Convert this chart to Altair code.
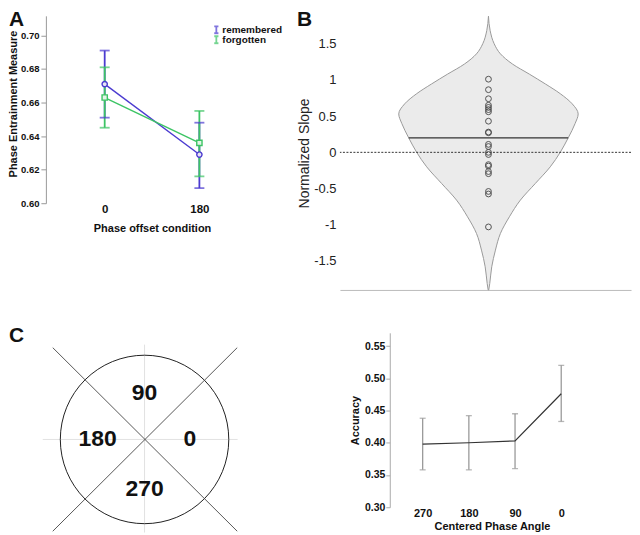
import altair as alt
import pandas as pd

FONT = "Liberation Sans"
PURPLE = "#4b3bd0"
GREEN = "#3cc464"

# ---------------- Panel A data ----------------
a_conditions = ["0", "180"]
a_series = ["remembered", "forgotten"]
a_remembered_mean = [0.671, 0.629]
a_remembered_low = [0.651, 0.609]
a_remembered_high = [0.691, 0.648]
a_forgotten_mean = [0.663, 0.636]
a_forgotten_low = [0.645, 0.616]
a_forgotten_high = [0.681, 0.655]
a_yticks = [0.60, 0.62, 0.64, 0.66, 0.68, 0.70]

# ---------------- Panel B data ----------------
b_slopes = [1.01, 0.865, 0.74, 0.65, 0.62, 0.59, 0.56, 0.43, 0.28, 0.27, 0.11,
            0.08, 0.0, -0.03, -0.17, -0.19, -0.265, -0.295, -0.54, -0.575, -1.03]
b_mean = 0.20
b_mean_halfwidth = 80
b_violin_y = [1.88, 1.68, 1.50, 1.36, 1.22, 1.08, 0.945, 0.81, 0.67, 0.53, 0.40,
              0.20, 0.0, -0.20, -0.43, -0.66, -0.89, -1.12, -1.35, -1.58, -1.81, -1.90]
b_violin_density = [0, 1.7, 5.7, 12, 24, 41, 57, 72, 84, 90, 87,
                    80, 72, 62, 47, 32, 21, 12, 7, 3.3, 1.3, 0.3]
b_yticks = [-1.5, -1, -0.5, 0, 0.5, 1, 1.5]

# ---------------- Panel C (left) data ----------------
c_quadrant_labels = ["90", "180", "0", "270"]
c_label_x = [0.0, -0.54, 0.52, 0.0]
c_label_y = [0.53, 0.0, 0.0, -0.57]
c_diag_x = [-1.055, 1.065]
c_diag_x2 = [1.065, -1.055]
c_diag_y = [1.055, 1.055]
c_diag_y2 = [-1.055, -1.055]

# ---------------- Panel C (right) data ----------------
c_angles = ["270", "180", "90", "0"]
c_acc_mean = [0.398, 0.400, 0.403, 0.476]
c_acc_low = [0.358, 0.358, 0.360, 0.433]
c_acc_high = [0.438, 0.442, 0.445, 0.520]
c_yticks = [0.30, 0.35, 0.40, 0.45, 0.50, 0.55]


def panel_label(letter, x, y):
    return alt.Chart(pd.DataFrame({"t": [letter]})).mark_text(
        align="left", baseline="top", fontSize=21, fontWeight="bold",
        font=FONT, color="#111"
    ).encode(text="t:N", x=alt.value(x), y=alt.value(y))


# ================= Panel A =================
dfA = pd.DataFrame({
    "cond": a_conditions * 2,
    "series": [a_series[0]] * 2 + [a_series[1]] * 2,
    "mean": a_remembered_mean + a_forgotten_mean,
    "low": a_remembered_low + a_forgotten_low,
    "high": a_remembered_high + a_forgotten_high,
})

axA_y = alt.Axis(values=a_yticks, format=".2f", title="Phase Entrainment Measure",
                 grid=False, domainColor="#999", tickColor="#999", tickSize=5,
                 labelFontSize=9.5, labelFontWeight="bold", labelColor="#111",
                 labelPadding=2, titleFontSize=11, titleFontWeight="bold",
                 titleColor="#111", titleX=-27, titleY=88)
scA_y = alt.Scale(domain=[0.60, 0.7117], nice=False, zero=False)
xA = alt.X("cond:N", sort=a_conditions,
           scale=alt.Scale(type="point", range=[59, 154], padding=0),
           axis=alt.Axis(title="Phase offset condition", labelAngle=0, domain=False,
                         ticks=False, grid=False, labelFontSize=11.5,
                         labelFontWeight="bold", labelColor="#111", labelPadding=0,
                         titleFontSize=11, titleFontWeight="bold", titleColor="#111",
                         titlePadding=8))
legA = alt.Legend(title=None, orient="none", legendX=166, legendY=9,
                  symbolType="M0,-1L0,1M-0.6,-1L0.6,-1M-0.6,1L0.6,1",
                  symbolSize=49, symbolStrokeWidth=1.8, labelFont=FONT,
                  labelFontSize=10, labelFontWeight="bold", labelColor="#111",
                  rowPadding=0, labelOffset=1, clipHeight=10)
colA = alt.Color("series:N", scale=alt.Scale(domain=a_series, range=[PURPLE, GREEN]),
                 legend=legA)

baseA = alt.Chart(dfA)
a_bars = baseA.mark_rule(strokeWidth=1.8).encode(
    x=xA, y=alt.Y("low:Q", scale=scA_y, axis=axA_y), y2="high:Q", color=colA)
a_cap_lo = baseA.mark_tick(size=10, thickness=1.8).encode(
    x=xA, y=alt.Y("low:Q", scale=scA_y, axis=axA_y), color=colA)
a_cap_hi = baseA.mark_tick(size=10, thickness=1.8).encode(
    x=xA, y=alt.Y("high:Q", scale=scA_y, axis=axA_y), color=colA)
a_lines = baseA.mark_line(strokeWidth=1.4).encode(
    x=xA, y=alt.Y("mean:Q", scale=scA_y, axis=axA_y), color=colA, detail="series:N")
a_pts_rem = baseA.transform_filter(alt.datum.series == a_series[0]).mark_point(
    shape="circle", filled=False, size=28, strokeWidth=1.4, color=PURPLE,
    fill="#e6e4f4", fillOpacity=1).encode(
    x=xA, y=alt.Y("mean:Q", scale=scA_y, axis=axA_y))
a_pts_for = baseA.transform_filter(alt.datum.series == a_series[1]).mark_point(
    shape="square", filled=False, size=28, strokeWidth=1.4, color=GREEN,
    fill="#e4f4e8", fillOpacity=1).encode(
    x=xA, y=alt.Y("mean:Q", scale=scA_y, axis=axA_y))
panelA = alt.layer(a_bars, a_cap_lo, a_cap_hi, a_lines, a_pts_rem, a_pts_for,
                   panel_label("A", -37, -7)).properties(width=212, height=188)

# ================= Panel B =================
dfV = pd.DataFrame({"y": b_violin_y, "hw": b_violin_density})
dfV["neg"] = -dfV["hw"]
dfP = pd.DataFrame({"slope": b_slopes, "x": [0] * len(b_slopes)})
dfM = pd.DataFrame({"m": [b_mean], "lo": [-b_mean_halfwidth], "hi": [b_mean_halfwidth]})
dfZ = pd.DataFrame({"z": [0]})

scB_x = alt.Scale(domain=[-149, 143], nice=False, zero=False)
scB_y = alt.Scale(domain=[-1.9, 1.885], nice=False, zero=False)
axB_x = alt.Axis(labels=False, ticks=False, title=None, grid=False, domainColor="#bbb")
axB_y = alt.Axis(values=b_yticks, labelExpr="datum.value + ''", title="Normalized Slope",
                 domain=False, ticks=False, grid=False, labelFontSize=13,
                 labelColor="#222", labelPadding=4, titleFontSize=14,
                 titleFontWeight="normal", titleColor="#222", titleX=-29, titleY=137.5)

b_violin = alt.Chart(dfV).mark_area(orient="horizontal", interpolate="monotone",
                                    fill="#ebebeb", stroke="#9a9a9a", strokeWidth=1).encode(
    y=alt.Y("y:Q", scale=scB_y, axis=axB_y),
    x=alt.X("neg:Q", scale=scB_x, axis=axB_x), x2="hw:Q")
b_mean_line = alt.Chart(dfM).mark_rule(color="#333", strokeWidth=1.3).encode(
    y=alt.Y("m:Q", scale=scB_y, axis=axB_y), x=alt.X("lo:Q", scale=scB_x, axis=axB_x), x2="hi:Q")
b_zero = alt.Chart(dfZ).mark_rule(color="#333", strokeWidth=1, strokeDash=[2, 1.5]).encode(
    y=alt.Y("z:Q", scale=scB_y, axis=axB_y))
b_pts = alt.Chart(dfP).mark_point(shape="circle", filled=False, size=34, color="#444",
                                  strokeWidth=1, opacity=0.9).encode(
    x=alt.X("x:Q", scale=scB_x, axis=axB_x), y=alt.Y("slope:Q", scale=scB_y, axis=axB_y))
panelB = alt.layer(b_violin, b_mean_line, b_zero, b_pts,
                   panel_label("B", -43, -7)).properties(width=292, height=275)

# ================= Panel C left =================
dfQ = pd.DataFrame({"t": c_quadrant_labels, "x": c_label_x, "y": c_label_y})
dfD = pd.DataFrame({"x": c_diag_x, "x2": c_diag_x2, "y": c_diag_y, "y2": c_diag_y2})
dfH = pd.DataFrame({"x": [-1.17], "x2": [1.07], "y": [0.0]})
dfVv = pd.DataFrame({"x": [0.0], "y": [1.09], "y2": [-1.07]})
dfO = pd.DataFrame({"x": [0.0], "y": [0.0]})

scC_x = alt.Scale(domain=[-1.134, 1.100], nice=False, zero=False)
scC_y = alt.Scale(domain=[-1.020, 1.226], nice=False, zero=False)

c_h = alt.Chart(dfH).mark_rule(color="#e2e2e2", strokeWidth=1).encode(
    x=alt.X("x:Q", scale=scC_x, axis=None), x2="x2:Q", y=alt.Y("y:Q", scale=scC_y, axis=None))
c_v = alt.Chart(dfVv).mark_rule(color="#e2e2e2", strokeWidth=1).encode(
    x=alt.X("x:Q", scale=scC_x, axis=None), y=alt.Y("y:Q", scale=scC_y, axis=None), y2="y2:Q")
c_circle = alt.Chart(dfO).mark_point(shape="circle", filled=False, size=28561,
                                     color="#222", strokeWidth=1, opacity=1).encode(
    x=alt.X("x:Q", scale=scC_x, axis=None), y=alt.Y("y:Q", scale=scC_y, axis=None))
c_diag = alt.Chart(dfD).mark_rule(color="#444", strokeWidth=0.9).encode(
    x=alt.X("x:Q", scale=scC_x, axis=None), x2="x2:Q",
    y=alt.Y("y:Q", scale=scC_y, axis=None), y2="y2:Q")
c_text = alt.Chart(dfQ).mark_text(fontSize=23, fontWeight="bold", font=FONT,
                                  color="#111", baseline="middle").encode(
    x=alt.X("x:Q", scale=scC_x, axis=None), y=alt.Y("y:Q", scale=scC_y, axis=None), text="t:N")
panelC1 = alt.layer(c_h, c_v, c_circle, c_diag, c_text,
                    panel_label("C", -37, -8)).properties(width=195, height=196)

# ================= Panel C right =================
dfC = pd.DataFrame({"angle": c_angles, "mean": c_acc_mean, "low": c_acc_low,
                    "high": c_acc_high})
scC2_y = alt.Scale(domain=[0.30, 0.5705], nice=False, zero=False)
axC2_y = alt.Axis(values=c_yticks, format=".2f", title="Accuracy", grid=False,
                  domainColor="#aaa", tickColor="#aaa", tickSize=4,
                  labelFontSize=10.5, labelFontWeight="bold", labelColor="#111",
                  labelPadding=1, titleFontSize=11, titleFontWeight="bold",
                  titleColor="#111", titlePadding=4)
xC2 = alt.X("angle:N", sort=c_angles,
            scale=alt.Scale(type="point", range=[33, 172], padding=0),
            axis=alt.Axis(title="Centered Phase Angle", labelAngle=0, domain=False,
                          ticks=False, grid=False, labelFontSize=11,
                          labelFontWeight="bold", labelColor="#111", labelPadding=0,
                          titleFontSize=11, titleFontWeight="bold", titleColor="#111",
                          titlePadding=2))
baseC = alt.Chart(dfC)
c2_bars = baseC.mark_rule(color="#9a9a9a", strokeWidth=1.3).encode(
    x=xC2, y=alt.Y("low:Q", scale=scC2_y, axis=axC2_y), y2="high:Q")
c2_lo = baseC.mark_tick(color="#9a9a9a", size=6, thickness=1.3).encode(
    x=xC2, y=alt.Y("low:Q", scale=scC2_y, axis=axC2_y))
c2_hi = baseC.mark_tick(color="#9a9a9a", size=6, thickness=1.3).encode(
    x=xC2, y=alt.Y("high:Q", scale=scC2_y, axis=axC2_y))
c2_line = baseC.mark_line(color="#333", strokeWidth=1.2).encode(
    x=xC2, y=alt.Y("mean:Q", scale=scC2_y, axis=axC2_y))
panelC2 = alt.layer(c2_bars, c2_lo, c2_hi, c2_line).properties(width=205, height=175)

# ================= Layout =================
top = alt.hconcat(panelA, panelB, spacing=83).properties(bounds="flush").resolve_scale(
    color="independent")
bottom = alt.hconcat(panelC1, panelC2, spacing=150).properties(bounds="flush")
chart = alt.vconcat(top, bottom, spacing=33).properties(padding=0).resolve_scale(
    color="independent"
).configure(font=FONT, background="white").configure_view(stroke=None)

chart.save("out.html", embed_options={"renderer": "svg", "actions": False})
